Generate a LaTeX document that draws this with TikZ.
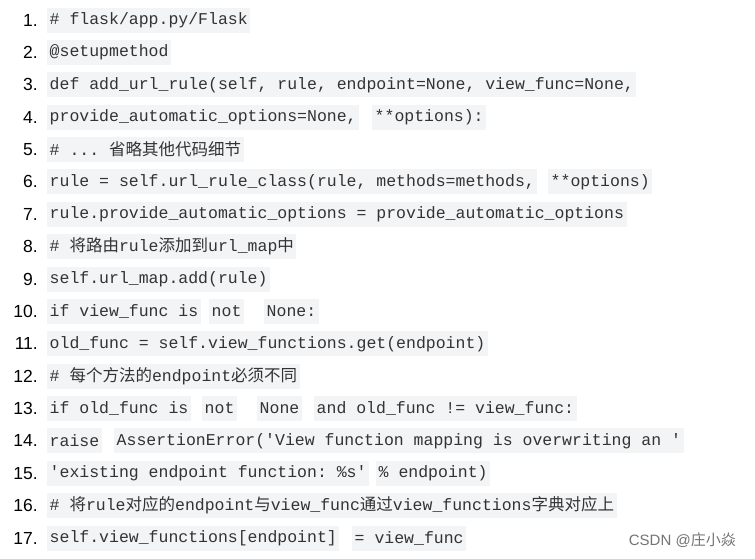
\documentclass[tikz,border=0pt]{standalone}
\usepackage{fontspec}
\setmainfont{Liberation Sans}
\setmonofont{Liberation Mono}
\newfontfamily\cjk{Noto Sans CJK SC}
\definecolor{chip}{HTML}{F3F4F5}
\definecolor{txt}{HTML}{333333}
\tikzset{code/.style={fill=chip,anchor=west,minimum height=25pt,inner xsep=2.5pt,inner ysep=0pt,text=txt,font=\fontsize{16.5}{18}\ttfamily},
 num/.style={anchor=east,font=\fontsize{17.5}{19}\selectfont,text=black,inner sep=0pt}}
\begin{document}
\begin{tikzpicture}[x=1pt,y=1pt]
\useasboundingbox (0,0) rectangle (755,-558);
\foreach \i in {1,...,17}{\node[num] (n\i) at (38,{-20-32.375*(\i-1)}) {\i.};}
\def\L#1{-20-32.375*(#1-1)}
\node[code] (c1) at (47,{\L1}) {\# flask/app.py/Flask};
\node[code] (c2) at (47,{\L2}) {@setupmethod};
\node[code] (c3) at (47,{\L3}) {def add\_url\_rule(self, rule, endpoint=None, view\_func=None,};
\node[code] (c4a) at (47,{\L4}) {provide\_automatic\_options=None,};
\node[code] (c4b) at (372,{\L4}) {**options):};
\node[code] (c5) at (47,{\L5}) {\# ... {\cjk 省略其他代码细节}};
\node[code] (c6a) at (47,{\L6}) {rule = self.url\_rule\_class(rule, methods=methods,};
\node[code] (c6b) at (548,{\L6}) {**options)};
\node[code] (c7) at (47,{\L7}) {rule.provide\_automatic\_options = provide\_automatic\_options};
\node[code] (c8) at (47,{\L8}) {\# {\cjk 将路由}rule{\cjk 添加到}url\_map{\cjk 中}};
\node[code] (c9) at (47,{\L9}) {self.url\_map.add(rule)};
\node[code] (c10a) at (47,{\L{10}}) {if view\_func is};
\node[code] (c10b) at (209,{\L{10}}) {not};
\node[code] (c10c) at (264,{\L{10}}) {None:};
\node[code] (c11) at (47,{\L{11}}) {old\_func = self.view\_functions.get(endpoint)};
\node[code] (c12) at (47,{\L{12}}) {\# {\cjk 每个方法的}endpoint{\cjk 必须不同}};
\node[code] (c13a) at (47,{\L{13}}) {if old\_func is};
\node[code] (c13b) at (202,{\L{13}}) {not};
\node[code] (c13c) at (257,{\L{13}}) {None};
\node[code] (c13d) at (314,{\L{13}}) {and old\_func != view\_func:};
\node[code] (c14a) at (47,{\L{14}}) {raise};
\node[code] (c14b) at (114,{\L{14}}) {AssertionError('View function mapping is overwriting an '};
\node[code] (c15a) at (47,{\L{15}}) {'existing endpoint function: \%s'};
\node[code] (c15b) at (376,{\L{15}}) {\% endpoint)};
\node[code] (c16) at (47,{\L{16}}) {\# {\cjk 将}rule{\cjk 对应的}endpoint{\cjk 与}view\_func{\cjk 通过}view\_functions{\cjk 字典对应上}};
\node[code] (c17a) at (47,{\L{17}}) {self.view\_functions[endpoint]};
\node[code] (c17b) at (352,{\L{17}}) {= view\_func};
\node[anchor=east,inner sep=0pt,text=black!55,font=\fontsize{15}{17}\selectfont] (wm) at (736,-540) {CSDN @{\cjk 庄小焱}};
\end{tikzpicture}
\end{document}
